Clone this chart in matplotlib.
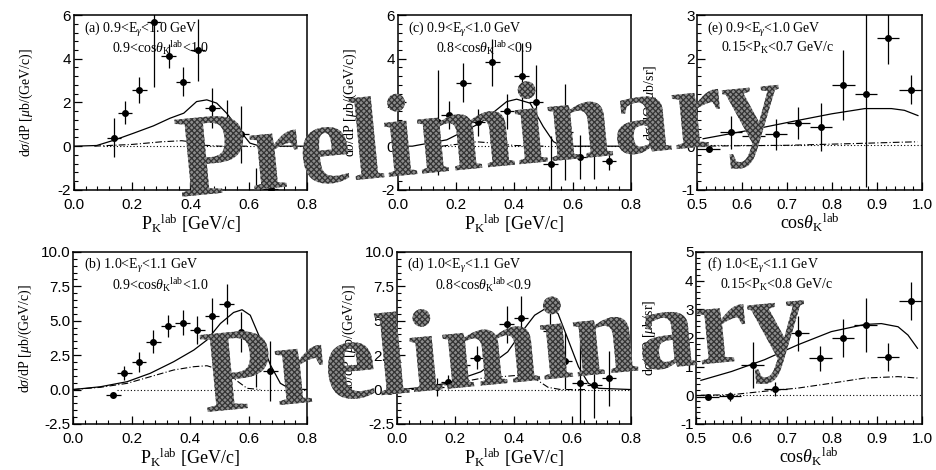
import numpy as np
import matplotlib
matplotlib.use("Agg")
import matplotlib.pyplot as plt
from matplotlib.ticker import MultipleLocator
import matplotlib.patheffects as pe

plt.rcParams['font.family'] = ['Liberation Serif', 'DejaVu Serif']
plt.rcParams['mathtext.fontset'] = 'custom'
plt.rcParams['mathtext.rm'] = 'Liberation Serif'
plt.rcParams['mathtext.it'] = 'Liberation Serif:italic'
plt.rcParams['mathtext.bf'] = 'Liberation Serif:bold'
plt.rcParams['hatch.linewidth'] = 0.9

# ---- data ----
# (a) 0.9<Eg<1.0, 0.9<cos<1.0
a_x = [0.1375, 0.175, 0.225, 0.275, 0.325, 0.375, 0.425, 0.475, 0.525, 0.575, 0.625, 0.675]
a_y = [0.39, 1.53, 2.57, 5.7, 4.14, 2.95, 4.4, 1.74, 1.0, 0.55, -2.5, -1.97]
a_err = [0.9, 0.53, 0.6, 3.0, 0.55, 0.65, 1.4, 0.9, 1.1, 1.3, 1.5, 1.1]
a_solid_x = [0.0, 0.078, 0.139, 0.204, 0.273, 0.33, 0.377, 0.421, 0.456, 0.49, 0.524, 0.559, 0.581, 0.604, 0.639, 0.8]
a_solid_y = [0.0, 0.03, 0.28, 0.59, 0.93, 1.28, 1.51, 2.04, 2.12, 1.97, 1.51, 0.9, 0.52, 0.14, 0.0, 0.0]
a_dd_x = [0.07, 0.2, 0.3, 0.37, 0.4, 0.45, 0.5, 0.6]
a_dd_y = [0.0, 0.08, 0.2, 0.25, 0.2, 0.04, 0.0, 0.0]
a_dot_x = [0.1, 0.8]
a_dot_y = [0.0, 0.0]

# (c) 0.9<Eg<1.0, 0.8<cos<0.9
c_x = [0.1375, 0.175, 0.225, 0.275, 0.325, 0.375, 0.425, 0.475, 0.525, 0.575, 0.625, 0.675, 0.725]
c_y = [1.1, 1.43, 2.91, 1.1, 3.83, 1.6, 3.22, 2.0, -0.8, 0.63, -0.5, -0.32, -0.67]
c_err = [2.4, 0.65, 0.9, 0.62, 1.07, 0.8, 1.5, 1.7, 1.25, 2.2, 1.0, 1.2, 0.4]
c_solid_x = [0.0, 0.05, 0.168, 0.282, 0.374, 0.408, 0.454, 0.499, 0.534, 0.562, 0.8]
c_solid_y = [0.0, 0.0, 0.29, 1.05, 2.04, 2.15, 1.97, 0.9, 0.21, 0.0, 0.0]
c_dd_x = [0.15, 0.2, 0.27, 0.32, 0.4, 0.5]
c_dd_y = [0.0, 0.08, 0.2, 0.15, 0.03, 0.0]
c_dot_x = [0.15, 0.8]
c_dot_y = [0.0, 0.0]

# (e) 0.9<Eg<1.0, 0.15<PK<0.7
e_x = [0.525, 0.575, 0.625, 0.675, 0.725, 0.775, 0.825, 0.875, 0.925, 0.975]
e_y = [-0.06, 0.32, 0.24, 0.27, 0.53, 0.44, 1.39, 1.19, 2.48, 1.29]
e_err = [0.03, 0.38, 0.33, 0.36, 0.36, 0.55, 0.8, 2.13, 0.6, 0.33]
e_solid_x = [0.513, 0.613, 0.724, 0.799, 0.873, 0.932, 0.961, 0.991]
e_solid_y = [0.17, 0.36, 0.59, 0.74, 0.86, 0.86, 0.82, 0.7]
e_dd_x = [0.5, 0.7, 0.85, 0.95, 0.99]
e_dd_y = [0.0, 0.02, 0.06, 0.09, 0.1]
e_dot_x = [0.5, 1.0]
e_dot_y = [0.03, 0.03]

# (b) 1.0<Eg<1.1, 0.9<cos<1.0
b_x = [0.1375, 0.175, 0.225, 0.275, 0.325, 0.375, 0.425, 0.475, 0.525, 0.575, 0.625, 0.675]
b_y = [-0.4, 1.18, 2.02, 3.47, 4.61, 4.87, 4.31, 5.36, 6.2, 4.2, 1.8, 1.35]
b_err = [0.1, 0.5, 0.73, 0.85, 0.78, 0.9, 1.0, 1.27, 1.45, 1.45, 1.6, 2.2]
b_solid_x = [0.0, 0.093, 0.185, 0.264, 0.344, 0.413, 0.458, 0.504, 0.549, 0.578, 0.606, 0.64, 0.675, 0.709, 0.743, 0.8]
b_solid_y = [0.0, 0.2, 0.57, 1.18, 2.02, 2.87, 3.6, 4.8, 5.6, 5.8, 5.4, 3.7, 1.78, 0.45, 0.04, 0.0]
b_dd_x = [0.0, 0.093, 0.185, 0.264, 0.344, 0.413, 0.458, 0.504, 0.549, 0.595, 0.64]
b_dd_y = [0.0, 0.16, 0.45, 0.93, 1.42, 1.66, 1.73, 1.42, 0.81, 0.09, 0.0]
b_dot_x = [0.15, 0.8]
b_dot_y = [0.0, 0.0]

# (d) 1.0<Eg<1.1, 0.8<cos<0.9
d_x = [0.1375, 0.175, 0.225, 0.275, 0.325, 0.375, 0.425, 0.525, 0.575, 0.625, 0.675, 0.725]
d_y = [0.16, 0.57, 1.78, 2.31, 2.02, 4.73, 5.2, 4.25, 2.09, 0.45, 0.33, 0.81]
d_err = [0.65, 0.5, 0.72, 0.85, 0.85, 1.33, 1.6, 2.5, 2.05, 3.0, 2.4, 2.0]
d_solid_x = [0.0, 0.057, 0.172, 0.287, 0.379, 0.423, 0.471, 0.517, 0.551, 0.586, 0.621, 0.655, 0.69, 0.8]
d_solid_y = [0.0, 0.09, 0.45, 1.29, 2.74, 4.07, 5.4, 6.0, 5.52, 3.59, 1.65, 0.45, 0.09, 0.0]
d_dd_x = [0.05, 0.17, 0.287, 0.423, 0.471, 0.517, 0.56, 0.65]
d_dd_y = [0.0, 0.35, 0.81, 1.05, 0.81, 0.16, 0.0, 0.0]
d_dot_x = [0.15, 0.8]
d_dot_y = [0.0, 0.0]

# (f) 1.0<Eg<1.1, 0.15<PK<0.8
f_x = [0.525, 0.575, 0.625, 0.675, 0.725, 0.775, 0.825, 0.875, 0.925, 0.975]
f_y = [-0.05, -0.04, 1.06, 0.23, 2.16, 1.29, 2.01, 2.45, 1.33, 3.3]
f_err = [0.05, 0.15, 0.8, 0.25, 0.6, 0.43, 0.66, 0.95, 0.5, 0.66]
f_solid_x = [0.51, 0.578, 0.651, 0.725, 0.799, 0.873, 0.91, 0.947, 0.969, 0.99]
f_solid_y = [0.52, 0.83, 1.24, 1.76, 2.22, 2.47, 2.5, 2.39, 2.1, 1.64]
f_dd_x = [0.51, 0.578, 0.651, 0.725, 0.799, 0.873, 0.947, 0.99]
f_dd_y = [0.0, 0.02, 0.14, 0.25, 0.42, 0.6, 0.65, 0.6]
f_dot_x = [0.5, 1.0]
f_dot_y = [0.0, 0.0]

panels = [
    # label, line1, line2, x, y, err, solid, dashdot, dotted, rect, kind
    ("(a)", r"0.9<E$_\gamma$<1.0 GeV", r"0.9<cos$\theta_{\rm K}$$^{\rm lab}$<1.0",
     a_x, a_y, a_err, (a_solid_x, a_solid_y), (a_dd_x, a_dd_y), (a_dot_x, a_dot_y),
     [0.079, 0.596, 0.249, 0.372], "p1"),
    ("(c)", r"0.9<E$_\gamma$<1.0 GeV", r"0.8<cos$\theta_{\rm K}$$^{\rm lab}$<0.9",
     c_x, c_y, c_err, (c_solid_x, c_solid_y), (c_dd_x, c_dd_y), (c_dot_x, c_dot_y),
     [0.425, 0.596, 0.249, 0.372], "p1"),
    ("(e)", r"0.9<E$_\gamma$<1.0 GeV", r"0.15<P$_{\rm K}$<0.7 GeV/c",
     e_x, e_y, e_err, (e_solid_x, e_solid_y), (e_dd_x, e_dd_y), (e_dot_x, e_dot_y),
     [0.745, 0.596, 0.240, 0.372], "c1"),
    ("(b)", r"1.0<E$_\gamma$<1.1 GeV", r"0.9<cos$\theta_{\rm K}$$^{\rm lab}$<1.0",
     b_x, b_y, b_err, (b_solid_x, b_solid_y), (b_dd_x, b_dd_y), (b_dot_x, b_dot_y),
     [0.078, 0.098, 0.250, 0.366], "p2"),
    ("(d)", r"1.0<E$_\gamma$<1.1 GeV", r"0.8<cos$\theta_{\rm K}$$^{\rm lab}$<0.9",
     d_x, d_y, d_err, (d_solid_x, d_solid_y), (d_dd_x, d_dd_y), (d_dot_x, d_dot_y),
     [0.424, 0.098, 0.250, 0.366], "p2"),
    ("(f)", r"1.0<E$_\gamma$<1.1 GeV", r"0.15<P$_{\rm K}$<0.8 GeV/c",
     f_x, f_y, f_err, (f_solid_x, f_solid_y), (f_dd_x, f_dd_y), (f_dot_x, f_dot_y),
     [0.744, 0.098, 0.241, 0.366], "c2"),
]

fig = plt.figure(figsize=(9.36, 4.70), dpi=100)

for lab, l1, l2, x, y, err, solid, dd, dot, rect, kind in panels:
    ax = fig.add_axes(rect)
    ax.plot(solid[0], solid[1], color='k', lw=0.9)
    ax.plot(dd[0], dd[1], color='k', lw=0.8, dashes=(6, 2, 1, 2))
    ax.plot(dot[0], dot[1], color='k', lw=0.8, ls=(0, (1, 2)))
    ax.errorbar(x, y, yerr=err, xerr=0.025, fmt='o', ms=4, color='k',
                elinewidth=0.9, capsize=0)

    if kind.startswith("p"):
        ax.set_xlim(0, 0.8)
        ax.xaxis.set_major_locator(MultipleLocator(0.2))
        ax.xaxis.set_minor_locator(MultipleLocator(0.04))
        ax.set_xlabel(r"P$_{\rm K}$$^{\rm lab}$ [GeV/c]", fontsize=13, labelpad=0)
        ax.set_ylabel(r"d$\sigma$/dP [$\mu$b/(GeV/c)]", fontsize=10)
    else:
        ax.set_xlim(0.5, 1.0)
        ax.xaxis.set_major_locator(MultipleLocator(0.1))
        ax.xaxis.set_minor_locator(MultipleLocator(0.02))
        ax.set_xlabel(r"cos$\theta_{\rm K}$$^{\rm lab}$", fontsize=13, labelpad=0)
        ax.set_ylabel(r"d$\sigma$/d$\Omega$ [$\mu$b/sr]", fontsize=10)

    if kind == "p1":
        ax.set_ylim(-2, 6)
        ax.yaxis.set_major_locator(MultipleLocator(2))
        ax.yaxis.set_minor_locator(MultipleLocator(0.4))
        ax.yaxis.set_major_formatter(plt.FormatStrFormatter('%d'))
    elif kind == "p2":
        ax.set_ylim(-2.5, 10)
        ax.yaxis.set_major_locator(MultipleLocator(2.5))
        ax.yaxis.set_minor_locator(MultipleLocator(0.5))
        ax.yaxis.set_major_formatter(plt.FormatStrFormatter('%.1f'))
    elif kind == "c1":
        ax.set_ylim(-1, 3)
        ax.yaxis.set_major_locator(MultipleLocator(1))
        ax.yaxis.set_minor_locator(MultipleLocator(0.2))
        ax.yaxis.set_major_formatter(plt.FormatStrFormatter('%d'))
    else:
        ax.set_ylim(-1, 5)
        ax.yaxis.set_major_locator(MultipleLocator(1))
        ax.yaxis.set_minor_locator(MultipleLocator(0.2))
        ax.yaxis.set_major_formatter(plt.FormatStrFormatter('%d'))
    ax.xaxis.set_major_formatter(plt.FormatStrFormatter('%.1f'))

    ax.yaxis.set_label_coords(-0.165 if kind.startswith("p") else -0.17, 0.5)
    ax.tick_params(which='both', direction='in', top=False, right=False,
                   labelsize=11)
    ax.tick_params(axis='x', pad=6)
    ax.tick_params(axis='y', pad=2)
    ax.tick_params(which='major', length=6, width=0.9)
    ax.tick_params(which='minor', length=3, width=0.8)
    for lbl in ax.get_xticklabels() + ax.get_yticklabels():
        lbl.set_family(['Liberation Sans', 'DejaVu Sans'])
    for sp in ax.spines.values():
        sp.set_linewidth(1.1)

    ax.text(0.045, 0.92, lab + " " + l1, transform=ax.transAxes, fontsize=10,
            va='center', ha='left')
    ax.text(0.165 if kind.startswith("p") else 0.105, 0.81, l2,
            transform=ax.transAxes, fontsize=10, va='center', ha='left')

# "Preliminary" watermarks
wm = dict(fontsize=85, fontweight='bold', family=['Liberation Serif', 'DejaVu Serif'],
          rotation=5.5, rotation_mode='anchor', ha='left', va='baseline', color='0.4',
          path_effects=[pe.PathPatchEffect(facecolor='0.55', edgecolor='0.2',
                                           hatch='xxxxxx', linewidth=0)])
fig.text(0.192, 0.581, "Preliminary", **wm)
fig.text(0.219, 0.123, "Preliminary", **wm)

fig.savefig("out.png", dpi=100)
